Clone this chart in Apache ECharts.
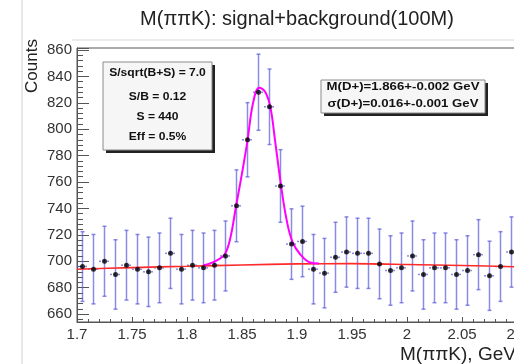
<!DOCTYPE html>
<html>
<head>
<meta charset="utf-8">
<script src="https://cdn.jsdelivr.net/npm/echarts@6/dist/echarts.min.js"></script>
<style>html,body{margin:0;padding:0;background:#fff;}#c{width:514px;height:364px;}</style>
</head>
<body>
<div id="c"></div>
<script>
// ---- data ----
var binCenters = [1.705,1.715,1.725,1.735,1.745,1.755,1.765,1.775,1.785,1.795,
                  1.805,1.815,1.825,1.835,1.845,1.855,1.865,1.875,1.885,1.895,
                  1.905,1.915,1.925,1.935,1.945,1.955,1.965,1.975,1.985,1.995,
                  2.005,2.015,2.025,2.035,2.045,2.055,2.065,2.075,2.085,2.095];
var counts = [696,694,700,690,697,694,692,695,706,694,
              697,695,697,704,742,792,828,817,757,713,
              715,694,691,703,707,706,706,698,693,695,
              704,690,695,695,690,693,705,689,696,707];
var errors = [26.4,26.3,26.5,26.3,26.4,26.3,26.3,26.4,26.6,26.3,
              26.4,26.4,26.4,26.5,27.2,28.1,28.8,28.6,27.5,26.7,
              26.7,26.3,26.3,26.5,26.6,26.6,26.6,26.4,26.3,26.4,
              26.5,26.3,26.4,26.4,26.3,26.3,26.5,26.2,26.4,26.6];
var binHalfWidth = 0.005;
var bgX = [1.7,1.75,1.8,1.85,1.9,1.95,2.0,2.05,2.1];
var bgY = [694.0,695.2,696.2,697.2,698.0,698.2,697.6,696.8,695.8];
var sigX = [1.815,1.821,1.828,1.8345,1.8395,1.8445,1.85,1.855,1.86,1.8657,1.871,1.8757,1.88,1.8852,1.8906,1.8958,1.9028,1.9118,1.92];
var sigY = [697.0,698.4,701.0,705.5,718.0,741.3,766.6,791.3,819.6,831.4,828.4,817.0,791.8,759.0,731.2,714.8,705.3,699.1,698.3];
var xTicks = {min:1.7, max:2.1, step:0.05};
var yTicks = {min:654, max:861.5, step:20};
var titleText = 'M(\u03c0\u03c0K): signal+background(100M)';
var xName = 'M(\u03c0\u03c0K), GeV';
var yName = 'Counts';
var leftBoxLines = ['S/sqrt(B+S) = 7.0','S/B = 0.12','S = 440','Eff = 0.5%'];
var rightBoxLines = ['M(D+)=1.866+-0.002 GeV','\u03c3(D+)=0.016+-0.001 GeV'];

// ---- build ----
var FONT = '"Liberation Sans", Arial, Helvetica, sans-serif';
var errData = binCenters.map(function(x,i){ return [x, counts[i], errors[i]]; });
var ptData = binCenters.map(function(x,i){ return [x, counts[i]]; });
var bgData = bgX.map(function(x,i){ return [x, bgY[i]]; });
var sigData = sigX.map(function(x,i){ return [x, sigY[i]]; });

var chart = echarts.init(document.getElementById('c'), null, {renderer:'canvas'});
var ebColor = 'rgba(90,90,215,0.7)';

function boxGroup(x, y, w, h, lines, lineYs, cx, fs, sx){
  var children = [
    {type:'rect', shape:{x:x+3,y:y+3,width:w,height:h}, style:{fill:'#222'}},
    {type:'rect', shape:{x:x,y:y,width:w,height:h}, style:{fill:'#f6f6f6', stroke:'#8a8a8a', lineWidth:1}}
  ];
  lines.forEach(function(t,i){
    children.push({type:'text', x:cx, y:lineYs[i], scaleX:sx, style:{text:t, fontFamily:FONT, fontSize:fs, fontWeight:'bold', fill:'#111', textAlign:'center', textVerticalAlign:'middle'}});
  });
  return {type:'group', z:100, children:children};
}

var option = {
  animation:false,
  backgroundColor:'#fff',
  grid:{left:77, right:-3, top:48, bottom:42, containLabel:false, outerBoundsMode:'none',
        show:true, borderColor:'#555', borderWidth:1, backgroundColor:'transparent'},
  xAxis:{
    type:'value', min:xTicks.min, max:xTicks.max, interval:xTicks.step,
    axisLine:{show:true, onZero:false, lineStyle:{color:'#555', width:1}},
    axisTick:{show:true, inside:true, length:5, lineStyle:{color:'#555'}},
    minorTick:{show:true, splitNumber:5, length:3, lineStyle:{color:'#555'}},
    splitLine:{show:false},
    axisLabel:{margin:5, fontFamily:FONT, fontSize:15, color:'#333'}
  },
  yAxis:{
    type:'value', min:yTicks.min, max:yTicks.max, minInterval:yTicks.step, maxInterval:yTicks.step, splitNumber:10,
    axisLine:{show:true, onZero:false, lineStyle:{color:'#555', width:1}},
    axisTick:{show:true, inside:true, length:12, lineStyle:{color:'#555'}},
    minorTick:{show:true, splitNumber:5, length:6, lineStyle:{color:'#555'}},
    splitLine:{show:false},
    axisLabel:{margin:5, fontFamily:FONT, fontSize:15, color:'#333', showMinLabel:false, showMaxLabel:false}
  },
  series:[
    {
      type:'custom', data:errData, z:2, clip:false,
      renderItem:function(params, api){
        var x = api.value(0), y = api.value(1), e = api.value(2);
        var top = api.coord([x, y+e]), bot = api.coord([x, y-e]);
        var l = api.coord([x-binHalfWidth, y]), r = api.coord([x+binHalfWidth, y]);
        var st = {stroke:ebColor, lineWidth:1.5};
        return {type:'group', children:[
          {type:'line', shape:{x1:top[0],y1:top[1],x2:bot[0],y2:bot[1]}, style:st},
          {type:'line', shape:{x1:top[0]-2,y1:top[1],x2:top[0]+2,y2:top[1]}, style:st},
          {type:'line', shape:{x1:bot[0]-2,y1:bot[1],x2:bot[0]+2,y2:bot[1]}, style:st},
          {type:'line', shape:{x1:l[0],y1:l[1],x2:r[0],y2:r[1]}, style:{stroke:ebColor, lineWidth:1.5, lineDash:[2,2]}}
        ]};
      }
    },
    {type:'line', data:bgData, showSymbol:false, smooth:0.3, z:3, lineStyle:{color:'#ff2a2a', width:1.6}},
    {type:'line', data:sigData, showSymbol:false, smooth:0.4, z:4, lineStyle:{color:'#ff00ff', width:2}},
    {type:'scatter', data:ptData, symbol:'circle', symbolSize:5, z:5, itemStyle:{color:'#000'}}
  ],
  graphic:[
    {type:'line', shape:{x1:22,y1:0,x2:22,y2:364}, style:{stroke:'#d0d0d0', lineWidth:1}},
    {type:'line', shape:{x1:72,y1:40,x2:514,y2:40}, style:{stroke:'#d8d8d8', lineWidth:1}},
    {type:'text', x:297, y:19, style:{text:titleText, fontFamily:FONT, fontSize:20, fill:'#222', textAlign:'center', textVerticalAlign:'middle'}},
    {type:'text', x:32, y:66, rotation:Math.PI/2, style:{text:yName, fontFamily:FONT, fontSize:17, fill:'#222', textAlign:'center', textVerticalAlign:'middle'}},
    {type:'text', x:400, y:355, style:{text:xName, fontFamily:FONT, fontSize:19, fill:'#222', textAlign:'left', textVerticalAlign:'middle'}},
    boxGroup(103, 62, 109, 88, leftBoxLines, [73,97,117,137], 157.5, 10.5, 1.15),
    boxGroup(321, 80, 164, 33, rightBoxLines, [87,103.5], 403, 11, 1.2)
  ]
};
chart.setOption(option);
</script>
</body>
</html>
